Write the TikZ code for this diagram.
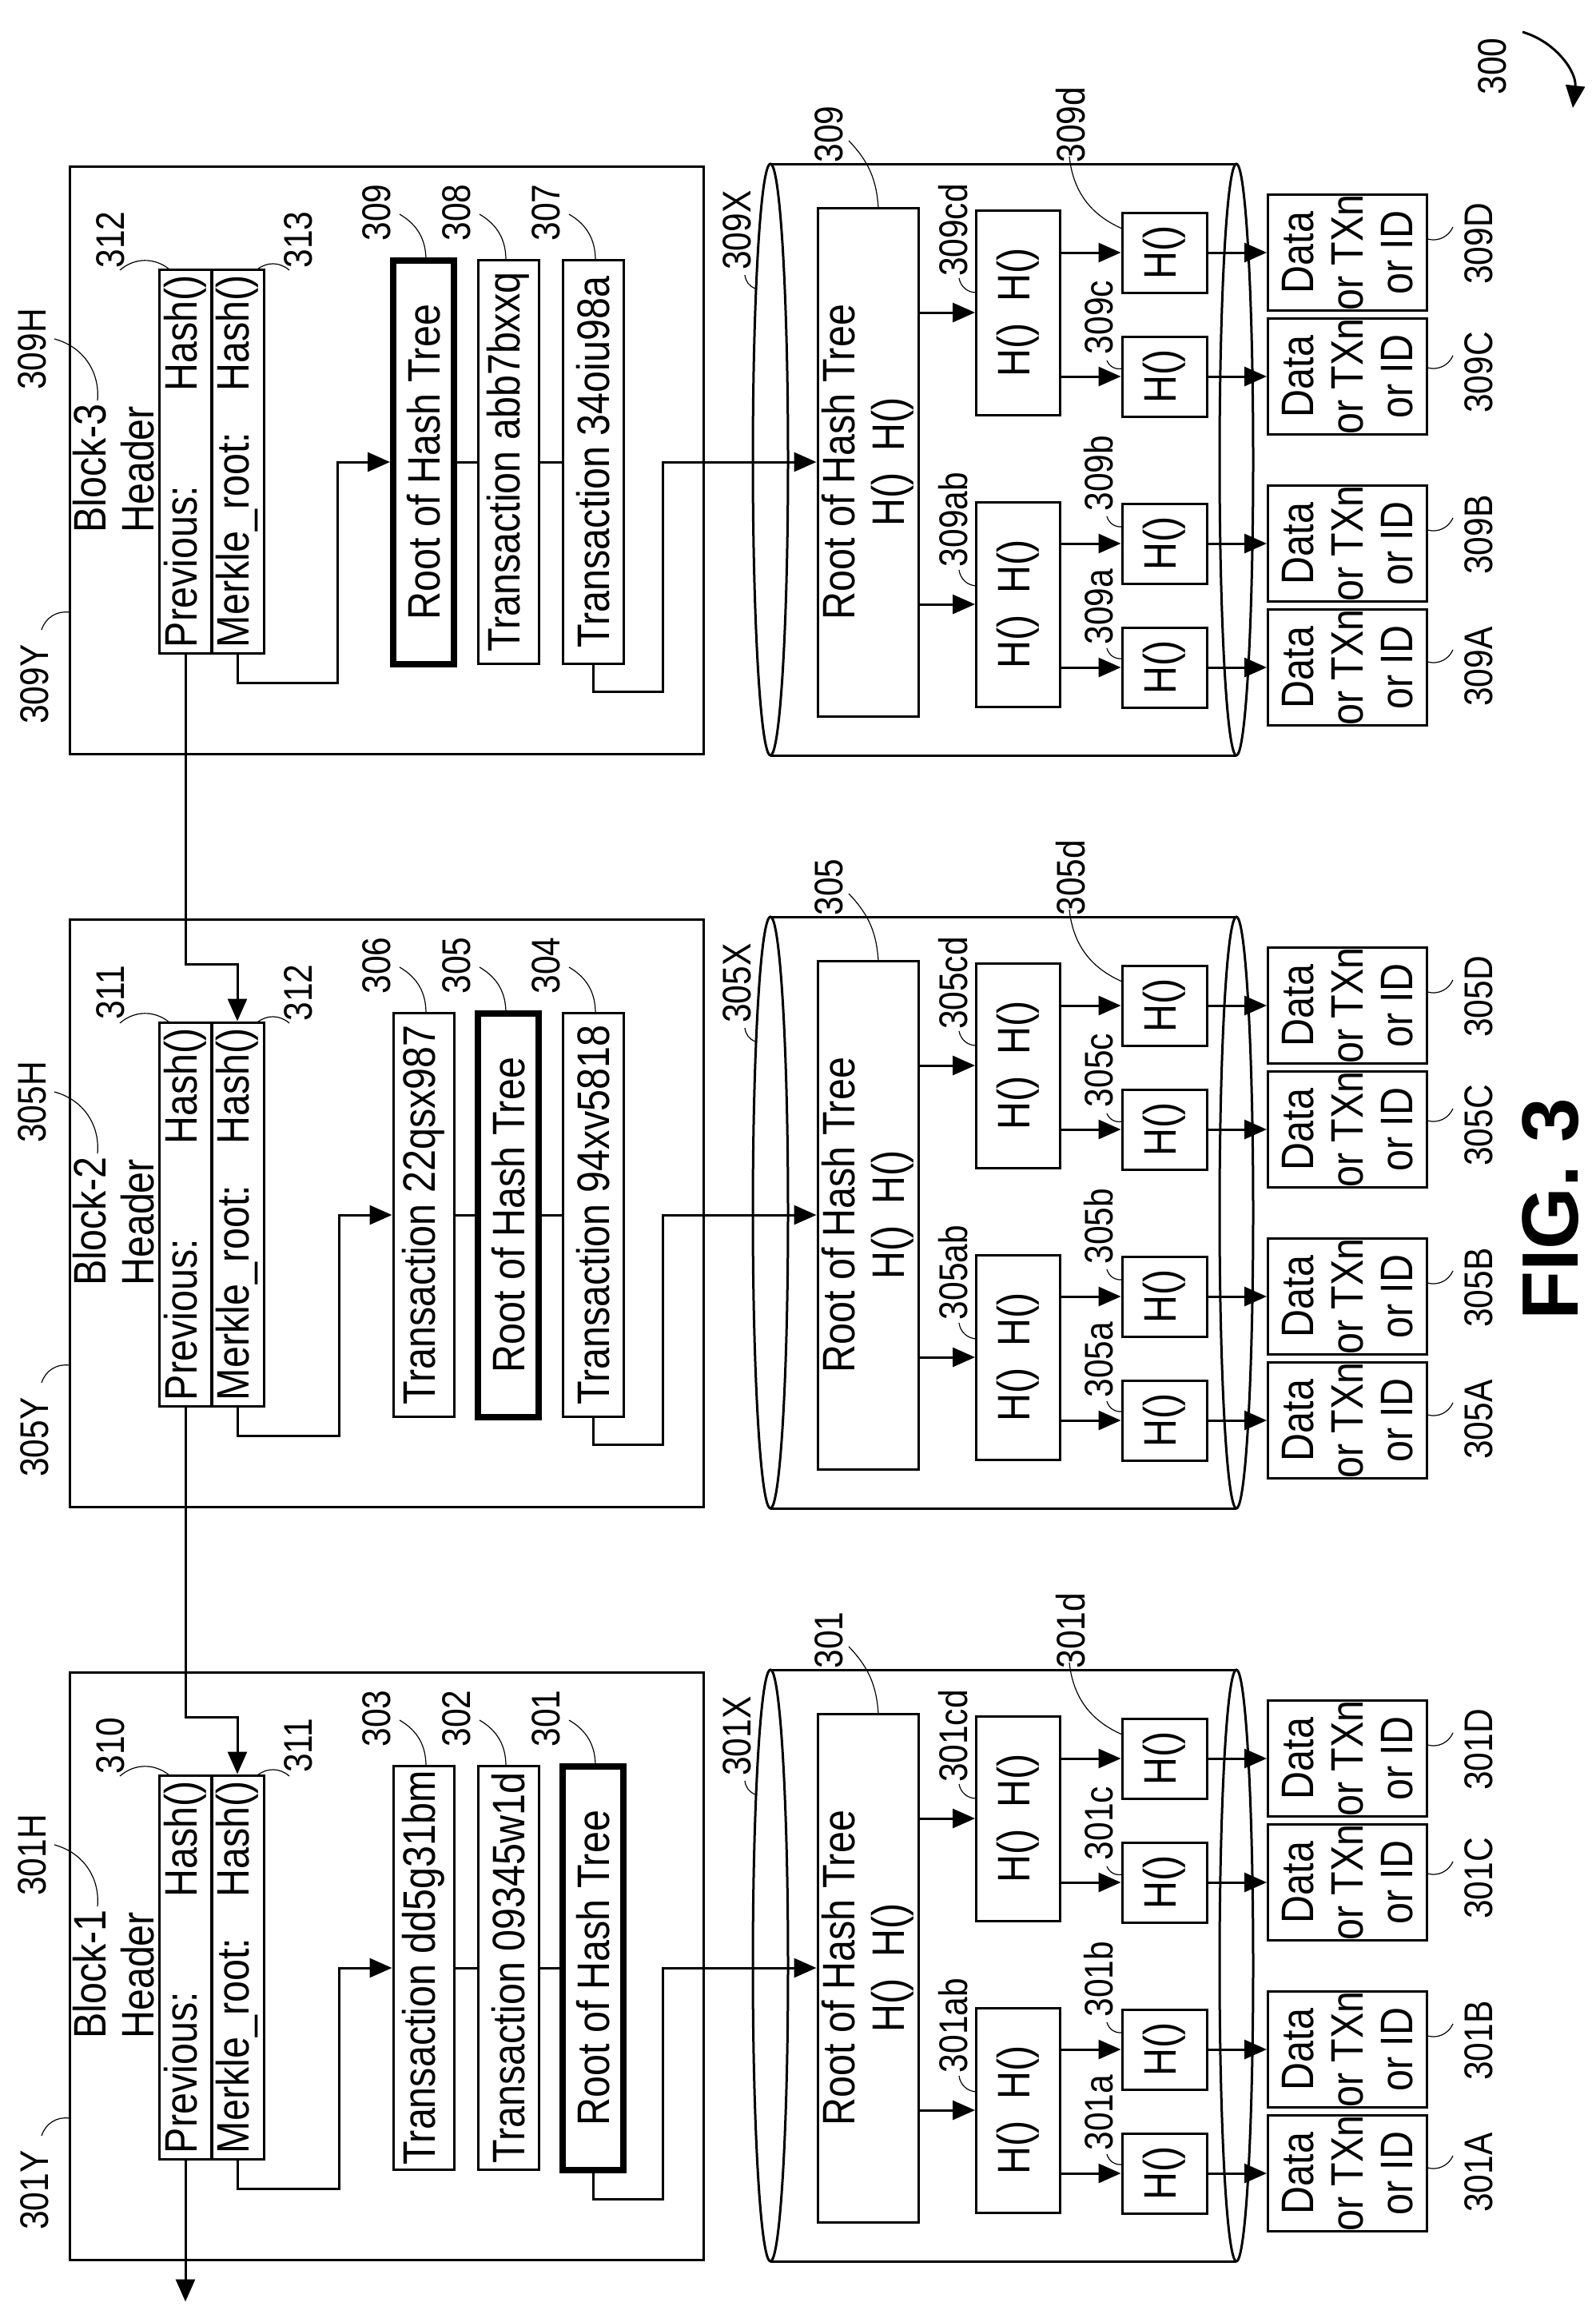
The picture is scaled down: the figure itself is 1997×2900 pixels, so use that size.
\documentclass[tikz,border=0pt]{standalone}
\usepackage{fontspec}
\setmainfont{Liberation Sans}[FakeStretch=0.85]
\newfontfamily\figfont{Liberation Sans}
\usetikzlibrary{arrows.meta, positioning, calc}

\begin{document}
\begin{tikzpicture}[
        x=1pt, y=-1pt,
        box/.style={draw, line width=3pt, rotate=90, inner sep=0pt, align=center, font=\fontsize{57}{62}\selectfont},
        tx/.style={box, minimum width=505pt, minimum height=76pt},
        rootbox/.style={tx, line width=8pt},
        hdr/.style={box, minimum width=480pt, minimum height=66pt, text width=466pt, align=left},
        pair/.style={box, minimum width=256pt, minimum height=105pt},
        leaf/.style={box, minimum width=100pt, minimum height=106pt},
        data/.style={box, minimum width=142pt, minimum height=199pt},
        lbl/.style={rotate=90, inner sep=0pt, font=\fontsize{50}{52}\selectfont},
        link/.style={line width=3pt},
        lead/.style={line width=1.2pt},
        arrow/.style={line width=3pt, -{Triangle[length=28pt, width=24pt]}}
    ]
    \useasboundingbox (0,0) rectangle (1997,2900);

    % one block with its header, transactions and hash tree
    \foreach \n/\dy/\pl/\ml/\sa/\ta/\la/\sb/\tb/\lb/\sc/\tc/\lc/\id in {
        1/0/310/311/tx/Transaction dd5g31bm/303/tx/Transaction 09345w1d/302/rootbox/Root of Hash Tree/301/301,
        2/-942/311/312/tx/Transaction 22qsx987/306/rootbox/Root of Hash Tree/305/tx/Transaction 94xv5818/304/305,
        3/-1884/312/313/rootbox/Root of Hash Tree/309/tx/Transaction abb7bxxq/308/tx/Transaction 34oiu98a/307/309}{
    \begin{scope}[shift={(0,\dy)}]
        \draw [link] (87,2092) rectangle (880,2827);
        \node [lbl, anchor=west, align=left, font=\fontsize{57}{60}\selectfont] (head\n) at (142,2551) {Block-\n\\Header};
        \node [hdr] (prev\n) at (232,2461) {Previous:\hfill Hash()};
        \node [hdr] (merk\n) at (297,2461) {Merkle\_root:\hfill Hash()};
        \node [\sa] (ta\n) at (530,2462) {\ta};
        \node [\sb] (tb\n) at (636,2462) {\tb};
        \node [\sc] (tc\n) at (742,2462) {\tc};
        \coordinate (in\n) at (300,2148);
        \draw [link] (ta\n) -- (tb\n);
        \draw [link] (tb\n) -- (tc\n);
        \draw [arrow] (merk\n.west) -- ++(0,36) -| ($(ta\n.north)+(-66,0)$) -- (ta\n.north);

        % labels of the block
        \node [lbl] at (138,2184) {\pl};
        \draw [lead] (150,2222) to[bend left=40] (212,2221);
        \node [lbl] at (373,2184) {\ml};
        \draw [lead] (362,2222) to[bend right=40] (322,2221);
        \node [lbl] at (40,2321) {\id H};
        \draw [lead] (68,2308) to[bend left=40] (122,2385);
        \node [lbl] at (43,2740) {\id Y};
        \draw [lead] (52,2672) to[bend left=40] (87,2650);
        \node [lbl] at (471,2150) {\la};
        \draw [lead] (500,2152) to[bend left=30] (533,2210);
        \node [lbl] at (571,2150) {\lb};
        \draw [lead] (600,2152) to[bend left=30] (633,2210);
        \node [lbl] at (683,2150) {\lc};
        \draw [lead] (712,2152) to[bend left=30] (745,2210);

        % hash tree store
        \draw [link] (964,2089) -- (1547,2089);
        \draw [link] (964,2829) -- (1547,2829);
        \draw [link] (964,2459) ellipse [x radius=22, y radius=370];
        \draw [link] (1547,2459) ellipse [x radius=21, y radius=370];
        \node [box, minimum width=636pt, minimum height=126pt] (root\n) at (1086,2462) {Root of Hash Tree\\H()\ \ H()};
        \node [pair] (ab\n) at (1274,2640) {H()\ \ H()};
        \node [pair] (cd\n) at (1274,2275) {H()\ \ H()};
        \node [leaf] (la\n) at (1457,2719) {H()};
        \node [leaf] (lb\n) at (1457,2564) {H()};
        \node [leaf] (lc\n) at (1457,2355) {H()};
        \node [leaf] (ld\n) at (1457,2200) {H()};
        \node [data] (dA\n) at (1686,2719) {Data\\or TXn\\or ID};
        \node [data] (dB\n) at (1686,2564) {Data\\or TXn\\or ID};
        \node [data] (dC\n) at (1686,2355) {Data\\or TXn\\or ID};
        \node [data] (dD\n) at (1686,2200) {Data\\or TXn\\or ID};

        \draw [arrow] (tc\n.west) -- ++(0,33) -| ($(root\n.north)+(-192,0)$) -- (root\n.north);
        \draw [arrow] (ab\n.north -| root\n.south) -- (ab\n.north);
        \draw [arrow] (cd\n.north -| root\n.south) -- (cd\n.north);
        \draw [arrow] (la\n.north -| ab\n.south) -- (la\n.north);
        \draw [arrow] (lb\n.north -| ab\n.south) -- (lb\n.north);
        \draw [arrow] (lc\n.north -| cd\n.south) -- (lc\n.north);
        \draw [arrow] (ld\n.north -| cd\n.south) -- (ld\n.north);
        \draw [arrow] (la\n) -- (dA\n);
        \draw [arrow] (lb\n) -- (dB\n);
        \draw [arrow] (lc\n) -- (dC\n);
        \draw [arrow] (ld\n) -- (dD\n);

        % labels of the store
        \node [lbl] at (922,2172) {\id X};
        \draw [lead] (932,2228) to[bend right=30] (945,2245);
        \node [lbl] at (1037,2052) {\id};
        \draw [lead] (1062,2060) to[bend left=20] (1099,2144);
        \node [lbl] at (1193,2534) {\id ab};
        \draw [lead] (1200,2597) to[bend right=40] (1222,2617);
        \node [lbl] at (1193,2172) {\id cd};
        \draw [lead] (1200,2232) to[bend right=40] (1222,2250);
        \node [lbl] at (1375,2643) {\id a};
        \draw [lead] (1385,2695) to[bend right=40] (1404,2708);
        \node [lbl] at (1375,2476) {\id b};
        \draw [lead] (1385,2530) to[bend right=40] (1404,2543);
        \node [lbl] at (1375,2281) {\id c};
        \draw [lead] (1385,2335) to[bend right=40] (1404,2345);
        \node [lbl] at (1340,2040) {\id d};
        \draw [lead] (1338,2080) to[bend right=30] (1404,2170);
        \node [lbl] at (1850,2718) {\id A};
        \draw [lead] (1818,2697) to[bend left=40] (1786,2712);
        \node [lbl] at (1850,2553) {\id B};
        \draw [lead] (1818,2532) to[bend left=40] (1786,2547);
        \node [lbl] at (1850,2350) {\id C};
        \draw [lead] (1818,2329) to[bend left=40] (1786,2344);
        \node [lbl] at (1850,2189) {\id D};
        \draw [lead] (1818,2168) to[bend left=40] (1786,2183);
    \end{scope}
    }

    % chaining of the headers
    \draw [arrow] (prev3.west) -- (prev3.west |- in2) -| (merk2.east);
    \draw [arrow] (prev2.west) -- (prev2.west |- in1) -| (merk1.east);
    \draw [arrow] (prev1.west) -- ++(0,177);

    \node [lbl] (fig300) at (1867,83) {300};
    \coordinate (fig300tip) at (1968,135);
    \draw [arrow] (1905,40) to[bend left=40] (fig300tip);
    \node [rotate=90, font=\figfont\bfseries\fontsize{100}{100}\selectfont] (figname) at (1940,1513) {FIG. 3};
\end{tikzpicture}
\end{document}
